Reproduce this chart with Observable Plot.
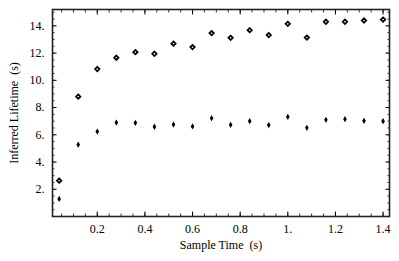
<!DOCTYPE html>
<html>
<head>
<meta charset="utf-8">
<script src="https://cdn.jsdelivr.net/npm/d3@7"></script>
<script src="https://cdn.jsdelivr.net/npm/@observablehq/plot@0.6"></script>
<style>
  body { margin: 0; background: white; }
  svg, svg text { font-family: 'Liberation Serif', 'Times New Roman', 'DejaVu Serif', serif !important; }
</style>
</head>
<body>
<div id="chart"></div>
<script>
const sampleTime = [0.04, 0.12, 0.2, 0.28, 0.36, 0.44, 0.52, 0.6, 0.68, 0.76, 0.84, 0.92, 1.0, 1.08, 1.16, 1.24, 1.32, 1.4];
const openSeries = [2.63, 8.8, 10.83, 11.66, 12.07, 11.95, 12.69, 12.44, 13.47, 13.12, 13.68, 13.32, 14.15, 13.14, 14.3, 14.3, 14.39, 14.46];
const filledSeries = [1.29, 5.27, 6.24, 6.9, 6.88, 6.59, 6.75, 6.61, 7.22, 6.73, 7.0, 6.71, 7.32, 6.51, 7.1, 7.15, 7.03, 7.0];
const xTickLabels = [0.2, 0.4, 0.6, 0.8, 1.0, 1.2, 1.4];
const yTickLabels = [2, 4, 6, 8, 10, 12, 14];
const xMinorTicks = d3.range(0.05, 1.42, 0.05).map(v => +v.toFixed(2));
const yMinorTicks = d3.range(0.5, 15.01, 0.5).map(v => +v.toFixed(1));

const openData = sampleTime.map((t, i) => ({t, v: openSeries[i]}));
const filledData = sampleTime.map((t, i) => ({t, v: filledSeries[i]}));
const fmt = d => Number.isInteger(d) ? d + "." : String(d);
const serif = "Liberation Serif";

const chart = Plot.plot({
  width: 399,
  height: 261,
  marginLeft: 52,
  marginRight: 10,
  marginTop: 9,
  marginBottom: 45,
  style: "font-family: 'Liberation Serif', serif; font-size: 12px; color: black; background: white;",
  x: {domain: [0.012, 1.427]},
  y: {domain: [0, 15.2]},
  marks: [
    // minor ticks (inward) on all four sides
    Plot.axisX(xMinorTicks, {anchor: "bottom", tickSize: -2.5, text: null, label: null, strokeWidth: 0.8}),
    Plot.axisX(xMinorTicks, {anchor: "top", tickSize: -2.5, text: null, label: null, strokeWidth: 0.8}),
    Plot.axisY(yMinorTicks, {anchor: "left", tickSize: -2.5, text: null, label: null, strokeWidth: 0.8}),
    Plot.axisY(yMinorTicks, {anchor: "right", tickSize: -2.5, text: null, label: null, strokeWidth: 0.8}),
    // major ticks (inward)
    Plot.axisX(xTickLabels, {anchor: "bottom", tickSize: -4.5, text: null, label: null, strokeWidth: 1}),
    Plot.axisX(xTickLabels, {anchor: "top", tickSize: -4.5, text: null, label: null, strokeWidth: 1}),
    Plot.axisY(yTickLabels, {anchor: "left", tickSize: -4.5, text: null, label: null, strokeWidth: 1}),
    Plot.axisY(yTickLabels, {anchor: "right", tickSize: -4.5, text: null, label: null, strokeWidth: 1}),
    // labels
    Plot.axisX(xTickLabels, {anchor: "bottom", tickSize: 0, tickPadding: 8, tickFormat: fmt,
      fontFamily: serif, fontSize: 12,
      label: "Sample Time\u00a0\u00a0(s)", labelAnchor: "center", labelArrow: "none", labelOffset: 32}),
    Plot.axisY(yTickLabels, {anchor: "left", tickSize: 0, tickPadding: 8, tickFormat: fmt,
      fontFamily: serif, fontSize: 12,
      label: "Inferred Lifetime\u00a0\u00a0(s)", labelAnchor: "center", labelArrow: "none", labelOffset: 43}),
    Plot.frame({stroke: "#222", strokeWidth: 1.6}),
    Plot.dot(openData, {x: "t", y: "v", symbol: "diamond2", r: 2, stroke: "black", strokeWidth: 1.7, fill: "white"}),
    Plot.dot(filledData, {x: "t", y: "v", symbol: "diamond", r: 1.9, fill: "black", stroke: "none"})
  ]
});
document.getElementById("chart").appendChild(chart);
</script>
</body>
</html>
